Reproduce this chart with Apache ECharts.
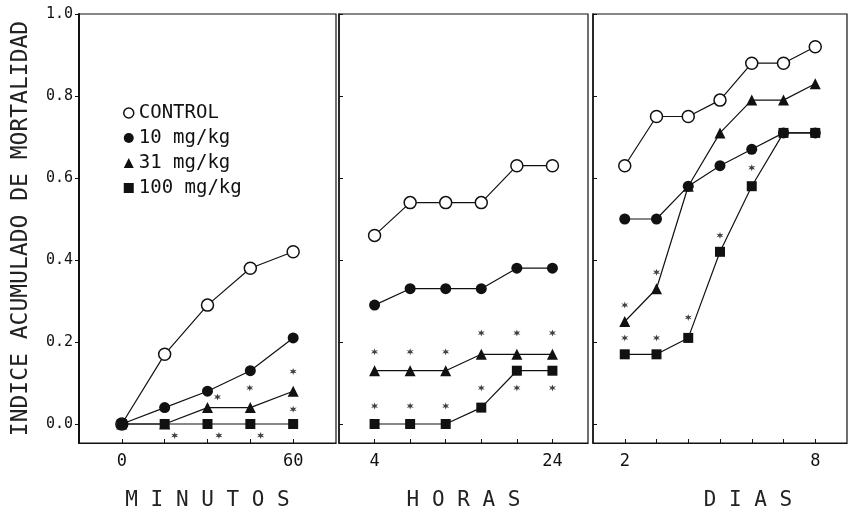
<!DOCTYPE html>
<html>
<head>
<meta charset="utf-8">
<script src="https://cdn.jsdelivr.net/npm/echarts@6/dist/echarts.min.js"></script>
<style>html,body{margin:0;padding:0;background:#fff;}#c{width:849px;height:519px;}</style>
</head>
<body>
<div id="c"></div>
<script>
// ---- data ----
const minutos = [0, 15, 30, 45, 60];
const horas = [4, 8, 12, 16, 20, 24];
const dias = [2, 3, 4, 5, 6, 7, 8];

const ctrlMin = [0, 0.17, 0.29, 0.38, 0.42];
const mg10Min = [0, 0.04, 0.08, 0.13, 0.21];
const mg31Min = [0, 0, 0.04, 0.04, 0.08];
const mg100Min = [0, 0, 0, 0, 0];

const ctrlHor = [0.46, 0.54, 0.54, 0.54, 0.63, 0.63];
const mg10Hor = [0.29, 0.33, 0.33, 0.33, 0.38, 0.38];
const mg31Hor = [0.13, 0.13, 0.13, 0.17, 0.17, 0.17];
const mg100Hor = [0, 0, 0, 0.04, 0.13, 0.13];

const ctrlDia = [0.63, 0.75, 0.75, 0.79, 0.88, 0.88, 0.92];
const mg10Dia = [0.50, 0.50, 0.58, 0.63, 0.67, 0.71, 0.71];
const mg31Dia = [0.25, 0.33, 0.58, 0.71, 0.79, 0.79, 0.83];
const mg100Dia = [0.17, 0.17, 0.21, 0.42, 0.58, 0.71, 0.71];

// significance asterisks [x, y]
const astMin = [[18.5, -0.028], [34, -0.028], [48.6, -0.028], [33.5, 0.066], [44.8, 0.088], [60, 0.128], [60, 0.036]];
const astHor = [[4, 0.176], [8, 0.176], [12, 0.176], [16, 0.222], [20, 0.222], [24, 0.222],
                [4, 0.044], [8, 0.044], [12, 0.044], [16, 0.088], [20, 0.088], [24, 0.088]];
const astDia = [[2, 0.29], [2, 0.21], [3, 0.37], [3, 0.21], [4, 0.26], [5, 0.46], [6, 0.625]];

const yTicks = [0, 0.2, 0.4, 0.6, 0.8, 1.0];
const xLabMin = [0, 60];
const xLabHor = [4, 24];
const xLabDia = [2, 8];

const names = ['CONTROL', '10 mg/kg', '31 mg/kg', '100 mg/kg'];
const yTitle = 'INDICE ACUMULADO DE MORTALIDAD';
const xTitles = ['M I N U T O S', 'H O R A S', 'D I A S'];

// ---- styles ----
const MONO = 'DejaVu Sans Mono';
const INK = '#111';
const symDefs = [
  {symbol: 'circle', size: 12, itemStyle: {color: '#fff', borderColor: INK, borderWidth: 1.5}},
  {symbol: 'circle', size: 11, itemStyle: {color: INK, borderColor: INK, borderWidth: 0}},
  {symbol: 'triangle', size: 11, itemStyle: {color: INK, borderColor: INK, borderWidth: 0}},
  {symbol: 'rect', size: 10, itemStyle: {color: INK, borderColor: INK, borderWidth: 0}}
];
const STAR = 'path://M5,0 L6,3.3 L9.3,2.5 L7,5 L9.3,7.5 L6,6.7 L5,10 L4,6.7 L0.7,7.5 L3,5 L0.7,2.5 L4,3.3 Z';

const panels = [
  {xs: minutos, ys: [ctrlMin, mg10Min, mg31Min, mg100Min], ast: astMin, labs: xLabMin, min: -15, max: 75},
  {xs: horas, ys: [ctrlHor, mg10Hor, mg31Hor, mg100Hor], ast: astHor, labs: xLabHor, min: 0, max: 28},
  {xs: dias, ys: [ctrlDia, mg10Dia, mg31Dia, mg100Dia], ast: astDia, labs: xLabDia, min: 1, max: 9}
];
const gridsPos = [
  {left: 79, top: 14, width: 257, height: 429},
  {left: 339, top: 14, width: 249, height: 429},
  {left: 593, top: 14, width: 254, height: 429}
];

const grid = gridsPos.map(g => Object.assign({show: true, borderColor: INK, borderWidth: 1.2, backgroundColor: 'transparent'}, g));

const xAxis = panels.map((p, i) => ({
  type: 'value', gridIndex: i, min: p.min, max: p.max,
  axisLine: {show: true, onZero: false, lineStyle: {color: INK, width: 1.2}},
  axisTick: {show: true, inside: true, length: 4, customValues: p.xs, lineStyle: {color: INK}},
  axisLabel: {show: true, customValues: p.labs, margin: 10, color: INK, fontFamily: MONO, fontSize: 17},
  splitLine: {show: false},
  name: xTitles[i], nameLocation: 'middle', nameGap: 47,
  nameTextStyle: {fontFamily: MONO, fontSize: 21, color: '#222',
    padding: i === 2 ? [0, 0, 0, 56] : [0, 0, 0, 0]}
}));

const yAxis = panels.map((p, i) => ({
  type: 'value', gridIndex: i, min: -0.0463, max: 1.0,
  axisLine: {show: true, onZero: false, lineStyle: {color: INK, width: i === 0 ? 2 : 1.5}},
  axisTick: {show: true, inside: i !== 0, length: 4, customValues: yTicks, lineStyle: {color: INK}},
  axisLabel: {show: i === 0, customValues: yTicks, margin: 6, color: INK, fontFamily: MONO, fontSize: 15,
    formatter: v => v.toFixed(1)},
  splitLine: {show: false},
  name: i === 0 ? yTitle : '', nameLocation: 'middle', nameGap: 46, nameRotate: 90,
  nameTextStyle: {fontFamily: MONO, fontSize: 23, color: '#222'}
}));

const series = [];
panels.forEach((p, i) => {
  p.ys.forEach((vals, k) => {
    const d = symDefs[k];
    series.push({
      type: 'line', name: names[k], xAxisIndex: i, yAxisIndex: i,
      data: p.xs.map((x, j) => [x, vals[j]]),
      symbol: d.symbol, symbolSize: d.size, showAllSymbol: true,
      lineStyle: {color: INK, width: 1.2},
      itemStyle: d.itemStyle,
      z: 2 + k, animation: false
    });
  });
  series.push({
    type: 'scatter', name: 'sig', xAxisIndex: i, yAxisIndex: i,
    data: p.ast, symbol: STAR, symbolSize: 7,
    itemStyle: {color: INK}, z: 10, animation: false, silent: true
  });
});

const legend = {
  show: true, orient: 'vertical', left: 118, top: 98,
  itemWidth: 10, itemHeight: 10, itemGap: 5, selectedMode: false,
  textStyle: {fontFamily: MONO, fontSize: 19, color: INK, lineHeight: 20},
  data: names.map((n, k) => ({name: n, icon: symDefs[k].symbol,
    itemStyle: symDefs[k].itemStyle}))
};

const chart = echarts.init(document.getElementById('c'), null, {renderer: 'canvas'});
chart.setOption({
  backgroundColor: '#fff', animation: false,
  grid, xAxis, yAxis, series, legend
});
</script>
</body>
</html>
